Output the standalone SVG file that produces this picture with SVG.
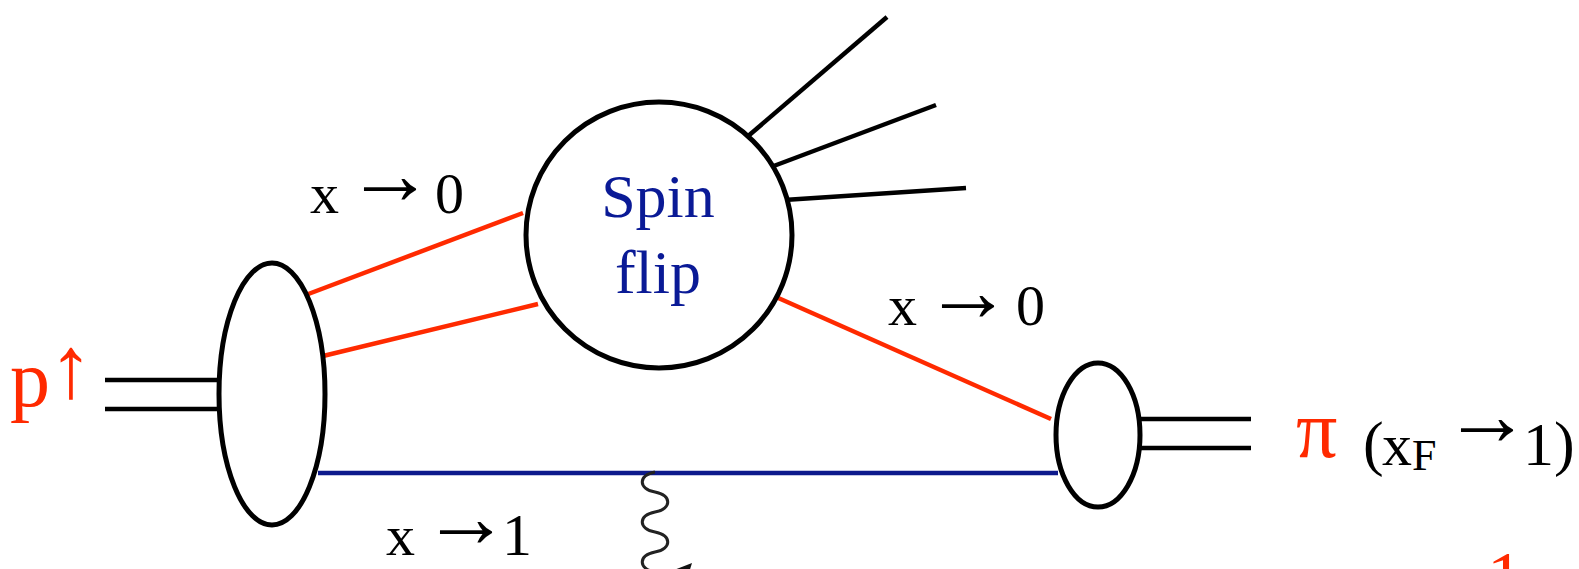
<svg xmlns="http://www.w3.org/2000/svg" width="1579" height="569" viewBox="0 0 1579 569">
<style>
.blk{stroke:#000;stroke-width:4.5;fill:none}
.red{stroke:#ff2a00;stroke-width:4.5;fill:none}
.blu{stroke:#0d1a8c;stroke-width:4.5;fill:none}
.node{stroke:#000;stroke-width:5;fill:#fff}
.lab{font-family:"Liberation Serif","Times New Roman",serif;fill:#000}
.arr{font-size:88px}
.rt{font-family:"Liberation Serif","Times New Roman",serif;fill:#ff2a00}
.bt{font-family:"Liberation Serif","Times New Roman",serif;fill:#0a1a96}
</style>
<rect width="1579" height="569" fill="#fff"/>
<g id="connectors">
  <line class="blk" x1="105" y1="380" x2="218" y2="380"/>
  <line class="blk" x1="105" y1="409" x2="218" y2="409"/>
  <line class="red" x1="303" y1="296" x2="523" y2="213"/>
  <line class="red" x1="323" y1="356" x2="538" y2="304"/>
  <line class="red" x1="776" y1="297" x2="1051" y2="419"/>
  <line class="blu" x1="318" y1="473" x2="1058" y2="473"/>
  <line class="blk" x1="1139" y1="419" x2="1251" y2="419"/>
  <line class="blk" x1="1139" y1="448" x2="1251" y2="448"/>
  <line class="blk" x1="747" y1="137" x2="887" y2="17"/>
  <line class="blk" x1="771" y1="167" x2="936" y2="105"/>
  <line class="blk" x1="784" y1="200" x2="966" y2="188"/>
  <line class="blk" x1="743" y1="132" x2="751" y2="141"/>
  <line class="blk" x1="769" y1="162" x2="773" y2="171"/>
  <line class="blk" x1="784" y1="195" x2="784" y2="204"/>
  <path d="M655,472 C638,475 638,489 655,492 C672,495 672,509 655,512 C638,515 638,529 655,532 C672,535 672,549 655,552 C638,555 638,569 655,572" stroke="#222" stroke-width="3" fill="none"/>
  <polygon points="674,570 692,563 688,576" fill="#111"/>
</g>
<g id="proton">
  <ellipse class="node" cx="272" cy="394" rx="53" ry="131"/>
</g>
<g id="spinflip">
  <circle class="node" cx="659" cy="235" r="133"/>
  <text class="bt" x="658" y="217" font-size="62" text-anchor="middle">Spin</text>
  <text class="bt" x="658" y="293" font-size="62" text-anchor="middle">flip</text>
</g>
<g id="pion">
  <ellipse class="node" cx="1098" cy="435" rx="42" ry="72"/>
</g>
<g id="labels">
  <text class="rt" font-size="80" y="406"><tspan x="10">p</tspan><tspan x="49" y="397" font-size="88">↑</tspan></text>
  <text class="lab" font-size="58" y="213"><tspan x="310">x</tspan><tspan class="arr" x="346" y="204">→</tspan><tspan x="435" y="213">0</tspan></text>
  <text class="lab" font-size="58" y="325"><tspan x="888">x</tspan><tspan class="arr" x="924" y="321">→</tspan><tspan x="1016" y="325">0</tspan></text>
  <text class="lab" font-size="58" y="555"><tspan x="386">x</tspan><tspan class="arr" x="422" y="547">→</tspan><tspan x="502" y="555" font-size="60">1</tspan></text>
  <text class="rt" x="1296" y="457" font-size="82">π</text>
  <text class="lab" font-size="62" y="464"><tspan x="1363">(</tspan><tspan x="1382" y="465" font-size="60">x</tspan><tspan x="1412" y="470" font-size="44">F</tspan><tspan class="arr" x="1443" y="445">→</tspan><tspan x="1523" y="465">1</tspan><tspan x="1554" y="464">)</tspan></text>
  <text class="rt" x="1487" y="601" font-size="72">1</text>
</g>
</svg>
